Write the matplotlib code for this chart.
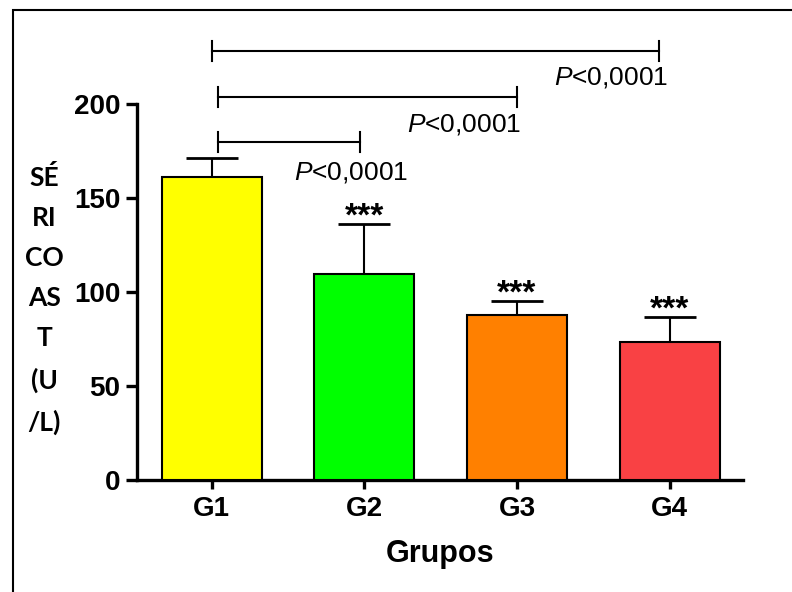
import matplotlib.pyplot as plt
from matplotlib.patches import Rectangle
import numpy as np

# AST serum levels per group (mean and SD, U/L)
groups = ["G1", "G2", "G3", "G4"]
ast_mean = [161.5, 109.5, 87.7, 73.7]
ast_sd = [9.8, 26.8, 7.4, 13.1]
bar_colors = ["#FFFF00", "#00FF00", "#FF8000", "#F94144"]
star_labels = ["", "***", "***", "***"]

# comparisons against G1
p_labels = ["P<0,0001", "P<0,0001", "P<0,0001"]
bracket_x = [(0.0, 2.93), (0.04, 2.0), (0.04, 0.97)]
bracket_y = [228.3, 204.0, 180.0]
p_text_x = [2.99, 2.03, 1.29]
p_text_y = [214.0, 189.0, 163.5]


def main():
    plt.rcParams["font.family"] = ["Liberation Sans", "DejaVu Sans"]
    plt.rcParams["mathtext.fontset"] = "custom"
    plt.rcParams["mathtext.rm"] = "Liberation Sans"
    plt.rcParams["mathtext.it"] = "Liberation Sans:italic"

    fig = plt.figure(figsize=(7.92, 5.92), dpi=100)
    ax = fig.add_axes([0.173, 0.189, 0.765, 0.635])

    x = np.arange(len(groups))
    lower = np.zeros(len(groups))
    ax.bar(x, ast_mean, width=0.655, color=bar_colors, edgecolor="black",
           linewidth=1.5, zorder=3)
    ax.errorbar(x, ast_mean, yerr=[lower, ast_sd], fmt="none", ecolor="black",
                elinewidth=1.5, capsize=18.5, capthick=2, zorder=2)

    for i, s in enumerate(star_labels):
        if s:
            ax.annotate(s, (x[i], ast_mean[i] + ast_sd[i]), xytext=(0, -1),
                        textcoords="offset points", ha="center", va="baseline",
                        fontsize=24, fontweight="bold")

    for (x0, x1), y, tx, ty, lab in zip(bracket_x, bracket_y, p_text_x,
                                        p_text_y, p_labels):
        ax.plot([x0, x1], [y, y], color="black", lw=1.5, clip_on=False)
        ax.plot([x0, x0], [y - 5.3, y + 5.3], color="black", lw=1.5, clip_on=False)
        ax.plot([x1, x1], [y - 5.3, y + 5.3], color="black", lw=1.5, clip_on=False)
        txt = lab.replace("P", r"$\mathit{P}$", 1)
        ax.text(tx, ty, txt, ha="right", va="center", fontsize=19, clip_on=False)

    ax.set_xlim(-0.49, 3.48)
    ax.set_ylim(0, 200)
    ax.set_yticks([0, 50, 100, 150, 200])
    ax.set_xticks(x)
    ax.set_xticklabels(groups)
    ax.spines["top"].set_visible(False)
    ax.spines["right"].set_visible(False)
    ax.spines["left"].set_linewidth(2.4)
    ax.spines["bottom"].set_linewidth(2.4)
    ax.tick_params(axis="y", length=8, width=2.4, pad=4, labelsize=20)
    ax.tick_params(axis="x", length=6.5, width=2.4, pad=5, labelsize=20)
    for lab in ax.get_xticklabels() + ax.get_yticklabels():
        lab.set_fontweight("bold")

    ax.set_xlabel("Grupos", fontsize=22, fontweight="bold", labelpad=12)
    fig.text(0.056, 0.493, "SÉ\nRI\nCO\nAS\nT\n(U\n/L)", ha="center",
             va="center", multialignment="center", fontsize=19,
             fontweight="bold", family=["Lato", "DejaVu Sans"], linespacing=1.8)

    # outer frame of the figure
    fig.patches.append(Rectangle((0.0158, -0.1), 1.2, 0.983 + 0.1,
                                 transform=fig.transFigure, fill=False,
                                 edgecolor="black", linewidth=1.5))

    plt.savefig("out.png", dpi=100)


if __name__ == "__main__":
    main()
